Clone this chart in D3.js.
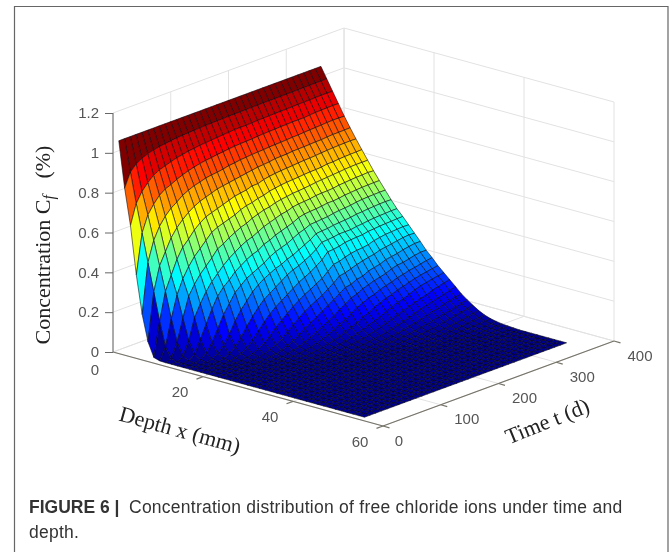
<!DOCTYPE html>
<html>
<head>
<meta charset="utf-8">
<script src="https://cdnjs.cloudflare.com/ajax/libs/d3/7.8.5/d3.min.js"></script>
<style>
  body { margin: 0; background: #fff; }
  svg { display: block; filter: blur(0.3px); }
  .tick-label { font-family: "Liberation Sans", Arial, sans-serif; font-size: 15px; fill: #555; }
  .axis-title { font-family: "Liberation Serif", "Times New Roman", serif; font-size: 22px; fill: #222; }
  .caption { font-family: "Liberation Sans", Arial, sans-serif; font-size: 17.5px; letter-spacing: 0.25px; fill: #333; }
</style>
</head>
<body>
<div id="chart"></div>
<script>
// depth of each mesh row (mm)
var depth = [0,1.3,2.6,3.9,5.2,6.5,7.8,9.1,10.4,11.7,13,14.3,15.6,16.9,18.2,19.5,20.8,22.1,23.4,24.7,26,27.3,28.6,29.9,31.2,32.5,33.8,35.1,36.4,37.7,39,40.3,41.6,42.9,44.2,45.5,46.8,48.1,49.4,50.7,52,53.3,54.6];
// time of each mesh column (days)
var time = [10,20,30,40,50,60,70,80,90,100,110,120,130,140,150,160,170,180,190,200,210,220,230,240,250,260,270,280,290,300,310,320,330,340,350,360];
// concentration, one line per time, going deeper
// a line stops where the surface has reached the floor
var concentration = [
  [1.05,.82,.64,.40,.21,.08,.01,.001],
  [1.05,.89,.74,.60,.46,.32,.18,.06,.011,.001],
  [1.05,.92,.79,.68,.56,.44,.32,.19,.08,.02,.004],
  [1.05,.937,.823,.723,.62,.50,.39,.30,.19,.085,.025,.007,.001],
  [1.05,.95,.85,.757,.66,.56,.46,.37,.29,.19,.09,.03,.008,.002],
  [1.05,.958,.866,.778,.69,.60,.51,.42,.34,.25,.155,.07,.025,.008,.002],
  [1.05,.964,.876,.79,.71,.63,.54,.46,.38,.30,.22,.13,.055,.022,.008,.002],
  [1.05,.968,.886,.805,.733,.655,.575,.49,.41,.34,.275,.19,.10,.045,.019,.007,.002],
  [1.05,.972,.895,.817,.748,.675,.60,.52,.44,.37,.31,.235,.155,.08,.037,.015,.006,.002],
  [1.05,.976,.9,.827,.76,.69,.62,.55,.475,.40,.335,.28,.20,.125,.064,.03,.013,.005,.002],
  [1.05,.978,.907,.835,.768,.70,.63,.565,.49,.425,.365,.305,.235,.165,.10,.048,.023,.01,.004,.001],
  [1.05,.98,.91,.842,.777,.71,.64,.575,.51,.445,.385,.33,.27,.20,.135,.075,.038,.018,.008,.003,.001],
  [1.05,.982,.915,.847,.782,.72,.65,.585,.525,.465,.405,.345,.295,.23,.165,.105,.056,.03,.014,.006,.002],
  [1.05,.984,.917,.85,.785,.725,.66,.595,.54,.48,.42,.36,.315,.25,.19,.13,.08,.043,.022,.011,.005,.002],
  [1.05,.985,.92,.855,.79,.73,.67,.61,.55,.49,.43,.375,.33,.27,.21,.155,.105,.062,.034,.016,.008,.003,.001],
  [1.05,.986,.922,.858,.797,.735,.675,.62,.565,.505,.45,.395,.345,.29,.23,.178,.128,.083,.046,.025,.013,.006,.002],
  [1.05,.987,.925,.862,.8,.74,.68,.625,.575,.52,.46,.41,.355,.31,.25,.198,.15,.103,.064,.036,.019,.01,.005,.002],
  [1.05,.988,.927,.865,.805,.745,.69,.635,.585,.53,.475,.42,.37,.325,.27,.217,.168,.12,.08,.047,.027,.014,.007,.003,.001],
  [1.05,.989,.93,.867,.807,.75,.69,.64,.59,.54,.485,.43,.38,.335,.285,.232,.184,.139,.097,.063,.036,.02,.011,.006,.002],
  [1.05,.989,.93,.868,.81,.755,.70,.65,.60,.55,.495,.445,.395,.35,.30,.25,.20,.157,.112,.077,.048,.028,.015,.008,.004,.002],
  [1.05,.99,.93,.87,.812,.757,.706,.655,.606,.555,.505,.46,.41,.365,.32,.265,.22,.175,.135,.09,.06,.037,.021,.012,.006,.003],
  [1.05,.99,.932,.872,.813,.76,.71,.66,.61,.565,.52,.47,.425,.385,.34,.29,.24,.195,.15,.11,.07,.046,.028,.015,.009,.005,.002],
  [1.05,.991,.933,.874,.816,.765,.713,.663,.615,.57,.527,.483,.445,.41,.37,.315,.265,.215,.17,.13,.09,.057,.036,.021,.012,.006,.003],
  [1.05,.991,.934,.875,.817,.766,.715,.665,.617,.572,.53,.485,.448,.412,.372,.32,.27,.22,.18,.143,.10,.068,.045,.027,.015,.009,.005,.002],
  [1.05,.992,.935,.876,.818,.767,.717,.667,.62,.575,.532,.488,.45,.415,.377,.33,.28,.235,.195,.157,.12,.08,.055,.034,.02,.012,.007,.003],
  [1.05,.992,.936,.878,.82,.77,.72,.67,.623,.58,.535,.49,.455,.42,.385,.338,.29,.24,.205,.165,.13,.095,.065,.043,.027,.015,.009,.005,.002],
  [1.05,.992,.936,.878,.822,.771,.722,.672,.627,.582,.54,.496,.458,.42,.388,.343,.298,.255,.215,.178,.143,.105,.075,.05,.032,.019,.011,.006,.003],
  [1.05,.992,.937,.88,.823,.772,.723,.673,.63,.583,.54,.5,.46,.42,.39,.345,.305,.262,.222,.187,.15,.118,.085,.06,.039,.025,.014,.008,.005,.002],
  [1.05,.993,.938,.88,.825,.773,.725,.675,.632,.585,.543,.502,.463,.425,.392,.35,.31,.268,.23,.195,.163,.125,.095,.07,.047,.03,.018,.011,.006,.003],
  [1.05,.993,.939,.88,.827,.775,.728,.68,.635,.59,.548,.505,.468,.428,.398,.36,.32,.28,.242,.205,.17,.138,.105,.08,.056,.037,.023,.014,.008,.005,.002],
  [1.05,.994,.94,.883,.828,.775,.73,.68,.637,.592,.55,.51,.47,.432,.4,.365,.325,.285,.25,.212,.18,.15,.115,.088,.065,.044,.028,.017,.01,.006,.003],
  [1.05,.994,.94,.885,.83,.778,.732,.683,.64,.595,.553,.513,.473,.435,.403,.37,.33,.29,.253,.22,.188,.16,.122,.096,.07,.05,.034,.021,.013,.008,.004,.002],
  [1.05,.994,.941,.886,.832,.78,.733,.685,.642,.597,.555,.515,.475,.437,.405,.372,.335,.298,.26,.225,.195,.166,.135,.105,.08,.056,.04,.026,.016,.01,.006,.003],
  [1.05,.995,.942,.887,.833,.78,.734,.686,.643,.598,.556,.516,.477,.438,.406,.374,.34,.303,.267,.232,.2,.172,.142,.112,.087,.063,.046,.03,.019,.012,.007,.004,.002],
  [1.05,.995,.942,.888,.833,.781,.735,.687,.643,.6,.557,.517,.478,.44,.408,.376,.343,.308,.272,.238,.206,.178,.15,.12,.094,.07,.052,.036,.023,.014,.009,.006,.003],
  [1.05,.996,.941,.887,.832,.782,.734,.688,.643,.598,.557,.517,.477,.44,.409,.375,.341,.308,.272,.243,.211,.184,.157,.13,.102,.08,.06,.041,.027,.017,.011,.006,.004,.002]
];
var depthTicks = [0,20,40,60];
var timeTicks = [0,100,200,300,400];
var concTicks = [0,0.2,0.4,0.6,0.8,1,1.2];
var captionBold = "FIGURE 6 |";
var captionLines = ["Concentration distribution of free chloride ions under time and", "depth."];

var width = 669, height = 552;
var origin = {x: 113, y: 352};   // depth 0, time 0, concentration 0

// oblique view: each data axis moves the pen along its own screen direction
var xToX = d3.scaleLinear().domain([0,60]).range([0,270]),
    xToY = d3.scaleLinear().domain([0,60]).range([0,74]),
    tToX = d3.scaleLinear().domain([0,400]).range([0,231]),
    tToY = d3.scaleLinear().domain([0,400]).range([0,-85]),
    zToY = d3.scaleLinear().domain([0,1.2]).range([0,-239]);

function px(d, t) { return origin.x + xToX(d) + tToX(t); }
function py(d, t, c) { return origin.y + xToY(d) + tToY(t) + zToY(c); }

var jet = d3.scaleLinear()
    .domain([0,0.125,0.375,0.625,0.875,1])
    .range(["#00008f","#0000ff","#00ffff","#ffff00","#ff0000","#800000"])
    .clamp(true);
var zMax = 1.05;

var svg = d3.select("#chart").append("svg")
    .attr("width", width)
    .attr("height", height);

// page frame
svg.append("path")
    .attr("d", "M14.5,552V6.5H668V552")
    .attr("fill", "none")
    .attr("stroke", "#666")
    .attr("stroke-width", 1.2);

// back walls and floor grid
var grid = svg.append("g").attr("stroke", "#e2e2e2").attr("stroke-width", 1).attr("fill", "none");
function gridLine(a, b) {
  grid.append("line")
      .attr("x1", px(a[0], a[1])).attr("y1", py(a[0], a[1], a[2]))
      .attr("x2", px(b[0], b[1])).attr("y2", py(b[0], b[1], b[2]));
}
concTicks.forEach(function(c) {
  gridLine([0,0,c], [0,400,c]);
  gridLine([0,400,c], [60,400,c]);
});
timeTicks.forEach(function(t) {
  gridLine([0,t,0], [0,t,1.2]);
  gridLine([0,t,0], [60,t,0]);
});
depthTicks.forEach(function(d) {
  gridLine([d,400,0], [d,400,1.2]);
  gridLine([d,0,0], [d,400,0]);
});

// surface, far cells first
var cells = [];
for (var i = 0; i < depth.length - 1; i++) {
  for (var j = time.length - 2; j >= 0; j--) {
    cells.push({i: i, j: j});
  }
}
function conc(j, i) { return concentration[j][i] || 0; }

svg.append("g").selectAll("path")
    .data(cells)
  .enter().append("path")
    .attr("d", function(q) {
      var corners = [[q.i,q.j],[q.i+1,q.j],[q.i+1,q.j+1],[q.i,q.j+1]];
      return "M" + corners.map(function(k) {
        var d = depth[k[0]], t = time[k[1]];
        return px(d, t).toFixed(2) + "," + py(d, t, conc(k[1], k[0])).toFixed(2);
      }).join("L") + "Z";
    })
    .attr("fill", function(q) { return jet(conc(q.j, q.i) / zMax); })
    .attr("stroke", "#05050f")
    .attr("stroke-width", 0.7)
    .attr("stroke-opacity", 0.8)
    .attr("stroke-linejoin", "round");

// concentration axis
var zScale = d3.scaleLinear().domain([0,1.2]).range([239,0]);
var zAxis = d3.axisLeft(zScale)
    .tickValues(concTicks)
    .tickFormat(function(d) { return d; })
    .tickSize(8)
    .tickPadding(6);
var zG = svg.append("g")
    .attr("transform", "translate(" + origin.x + "," + (origin.y - 239) + ")")
    .call(zAxis);
zG.selectAll("path, line").attr("stroke", "#666");
zG.selectAll("text").attr("class", "tick-label");
zG.attr("font-family", null).attr("font-size", null);
zG.select(".domain").attr("d", "M0,0V239");

// floor axes
var axisG = svg.append("g").attr("stroke", "#77746a").attr("stroke-width", 1.2);
axisG.append("line")
    .attr("x1", px(0,0)).attr("y1", py(0,0,0))
    .attr("x2", px(60,0)).attr("y2", py(60,0,0));
axisG.append("line")
    .attr("x1", px(60,0)).attr("y1", py(60,0,0))
    .attr("x2", px(60,400)).attr("y2", py(60,400,0));

var xTickVec = {x: -6.5, y: 2.4}, tTickVec = {x: 6.5, y: 1.8};
depthTicks.slice(1).forEach(function(d) {
  axisG.append("line")
      .attr("x1", px(d,0)).attr("y1", py(d,0,0))
      .attr("x2", px(d,0) + xTickVec.x).attr("y2", py(d,0,0) + xTickVec.y);
});
timeTicks.forEach(function(t) {
  axisG.append("line")
      .attr("x1", px(60,t)).attr("y1", py(60,t,0))
      .attr("x2", px(60,t) + tTickVec.x).attr("y2", py(60,t,0) + tTickVec.y);
});

// tick labels sit off the axis along the tick direction
svg.append("g").selectAll("text")
    .data(depthTicks)
  .enter().append("text")
    .attr("class", "tick-label")
    .attr("text-anchor", "middle")
    .attr("x", function(d) { return px(d,0) - (d == 0 ? 18 : 23); })
    .attr("y", function(d) { return py(d,0,0) + (d == 0 ? 22.5 : 20.5); })
    .text(function(d) { return d; });

svg.append("g").selectAll("text")
    .data(timeTicks)
  .enter().append("text")
    .attr("class", "tick-label")
    .attr("text-anchor", "middle")
    .attr("x", function(t) { return px(60,t) + (t == 0 ? 16 : 26); })
    .attr("y", function(t) { return py(60,t,0) + 19.5; })
    .text(function(t) { return t; });

// axis titles
var zTitle = svg.append("text")
    .attr("class", "axis-title")
    .attr("text-anchor", "middle")
    .attr("transform", "translate(50,245) rotate(-90)")
    .attr("xml:space", "preserve");
zTitle.append("tspan").text("Concentration C");
zTitle.append("tspan").attr("dy", 4).attr("font-style", "italic").attr("font-size", 16).text("f");
zTitle.append("tspan").attr("dy", -4).text("   (%)");

svg.append("text")
    .attr("class", "axis-title")
    .attr("text-anchor", "middle")
    .attr("transform", "translate(178,437) rotate(15.5)")
    .text("Depth x (mm)");

svg.append("text")
    .attr("class", "axis-title")
    .attr("text-anchor", "middle")
    .attr("transform", "translate(550,428) rotate(-22)")
    .text("Time t (d)");

// caption
var cap = svg.append("text").attr("class", "caption").attr("y", 513);
cap.append("tspan").attr("x", 29).attr("font-weight", "bold").style("letter-spacing", "0").text(captionBold);
cap.append("tspan").attr("x", 129).text(captionLines[0]);
svg.append("text").attr("class", "caption").attr("x", 29).attr("y", 538).text(captionLines[1]);
</script>
</body>
</html>
